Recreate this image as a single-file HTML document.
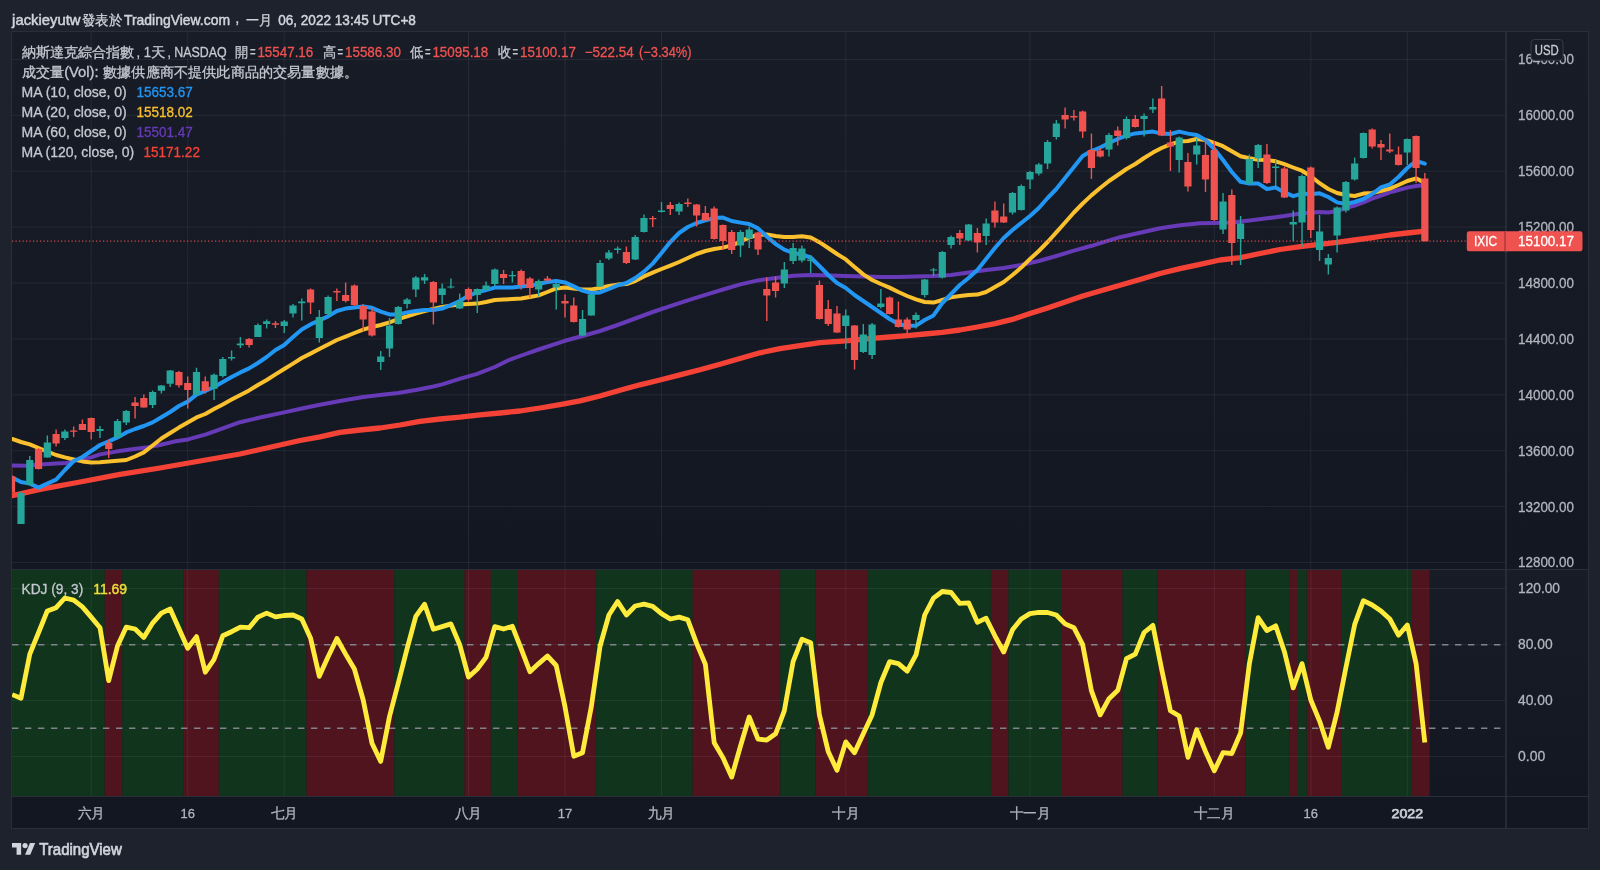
<!DOCTYPE html>
<html lang="zh-Hant"><head><meta charset="utf-8"><title>TradingView chart</title>
<style>html,body{margin:0;padding:0;background:#1e222d;width:1600px;height:870px;overflow:hidden}body{font-family:"Liberation Sans", sans-serif}</style>
</head><body>
<svg width="1600" height="870" viewBox="0 0 1600 870" style="display:block;will-change:transform;font-family:'Liberation Sans',sans-serif">
<defs>
<linearGradient id="pg" x1="0" y1="0" x2="0" y2="1"><stop offset="0" stop-color="#181c27"/><stop offset="1" stop-color="#131722"/></linearGradient>
<clipPath id="c1"><rect x="12" y="32" width="1493.5" height="537"/></clipPath>
<clipPath id="c2"><rect x="12" y="570" width="1493.5" height="226"/></clipPath>
</defs>
<rect width="1600" height="870" fill="#1e222d"/>
<rect x="12" y="32" width="1576" height="537" fill="url(#pg)"/>
<rect x="12" y="570" width="1576" height="226" fill="url(#pg)"/>
<rect x="12" y="796" width="1576" height="32" fill="#131722"/>
<g clip-path="url(#c2)">
<rect x="12.00" y="570" width="92.76" height="226" fill="#10341c"/>
<rect x="104.76" y="570" width="17.55" height="226" fill="#50141e"/>
<rect x="122.31" y="570" width="61.42" height="226" fill="#10341c"/>
<rect x="183.73" y="570" width="35.10" height="226" fill="#50141e"/>
<rect x="218.82" y="570" width="87.74" height="226" fill="#10341c"/>
<rect x="306.56" y="570" width="87.74" height="226" fill="#50141e"/>
<rect x="394.30" y="570" width="70.19" height="226" fill="#10341c"/>
<rect x="464.49" y="570" width="26.32" height="226" fill="#50141e"/>
<rect x="490.82" y="570" width="26.32" height="226" fill="#10341c"/>
<rect x="517.14" y="570" width="78.97" height="226" fill="#50141e"/>
<rect x="596.11" y="570" width="96.51" height="226" fill="#10341c"/>
<rect x="692.62" y="570" width="87.74" height="226" fill="#50141e"/>
<rect x="780.36" y="570" width="35.10" height="226" fill="#10341c"/>
<rect x="815.46" y="570" width="52.64" height="226" fill="#50141e"/>
<rect x="868.10" y="570" width="122.84" height="226" fill="#10341c"/>
<rect x="990.93" y="570" width="17.55" height="226" fill="#50141e"/>
<rect x="1008.48" y="570" width="52.64" height="226" fill="#10341c"/>
<rect x="1061.13" y="570" width="61.42" height="226" fill="#50141e"/>
<rect x="1122.55" y="570" width="35.10" height="226" fill="#10341c"/>
<rect x="1157.64" y="570" width="87.74" height="226" fill="#50141e"/>
<rect x="1245.38" y="570" width="43.87" height="226" fill="#10341c"/>
<rect x="1289.25" y="570" width="8.77" height="226" fill="#50141e"/>
<rect x="1298.03" y="570" width="8.77" height="226" fill="#10341c"/>
<rect x="1306.80" y="570" width="35.10" height="226" fill="#50141e"/>
<rect x="1341.89" y="570" width="70.19" height="226" fill="#10341c"/>
<rect x="1412.09" y="570" width="17.55" height="226" fill="#50141e"/>
</g>
<path d="M91.2 32V569M91.2 570V796M187.7 32V569M187.7 570V796M284.2 32V569M284.2 570V796M468.5 32V569M468.5 570V796M565.0 32V569M565.0 570V796M661.5 32V569M661.5 570V796M845.8 32V569M845.8 570V796M1030.0 32V569M1030.0 570V796M1214.3 32V569M1214.3 570V796M1310.8 32V569M1310.8 570V796M1407.3 32V569M1407.3 570V796M12 59.4H1506M12 115.3H1506M12 171.2H1506M12 227.1H1506M12 283.0H1506M12 338.9H1506M12 394.8H1506M12 450.7H1506M12 506.6H1506M12 562.5H1506M12 588.4H1506M12 644.4H1506M12 700.4H1506M12 756.4H1506" stroke="rgba(240,243,250,0.07)" stroke-width="1" fill="none"/>
<path d="M12 644.7H1501M12 728.3H1501" stroke="#80838c" stroke-width="1.5" stroke-dasharray="6.4 6.6" fill="none"/>
<g clip-path="url(#c1)" fill="none" stroke-linejoin="round" stroke-linecap="round">
<path d="M12.2 495.6L40.0 489.4L80.0 482.0L120.0 474.4L160.0 468.0L200.0 461.0L240.0 454.0L280.0 445.0L300.0 440.5L320.0 436.8L340.0 432.4L360.0 430.0L380.0 428.0L400.0 425.0L420.0 421.4L440.0 419.0L460.0 417.2L480.0 414.9L500.0 413.0L520.0 411.0L540.0 408.0L560.0 404.6L580.0 400.8L600.0 396.0L620.0 390.2L640.0 384.8L660.0 380.0L680.0 374.9L700.0 369.7L720.0 364.2L740.0 358.5L760.0 352.8L780.0 348.6L800.0 345.7L820.0 342.6L845.8 340.9L872.0 338.4L889.6 337.0L907.2 335.6L924.8 334.0L942.2 332.4L959.8 330.0L977.4 327.0L995.0 323.6L1012.4 319.4L1030.0 313.6L1047.6 308.0L1065.2 302.0L1082.8 296.0L1100.0 291.0L1120.0 285.3L1140.0 279.5L1160.0 273.5L1180.0 268.7L1200.0 264.3L1220.0 260.0L1240.6 257.6L1260.0 253.5L1280.0 249.5L1302.0 246.4L1319.6 244.4L1337.2 242.4L1354.6 240.0L1372.2 237.6L1389.8 235.0L1407.2 233.0L1424.8 231.1" stroke="#f44336" stroke-width="5.3"/>
<path d="M12.2 465.4L26.0 465.8L40.0 464.4L56.0 463.6L66.0 463.0L80.0 459.6L91.2 457.4L100.0 454.4L116.0 451.6L130.0 449.6L146.0 447.6L160.0 445.0L174.0 441.6L188.0 439.4L206.0 434.4L220.0 429.3L240.0 422.2L260.0 417.5L284.2 412.4L301.8 408.5L320.0 404.8L340.0 401.0L363.2 397.0L380.0 395.0L398.2 393.0L415.8 390.0L433.4 386.5L442.2 384.4L459.6 378.9L477.2 373.8L494.8 367.0L508.0 360.5L520.0 356.0L540.0 349.0L565.0 340.8L582.6 336.0L600.0 331.0L617.6 325.0L635.2 318.5L652.8 312.0L670.2 306.2L687.8 300.4L705.4 294.9L723.0 289.5L740.4 284.4L758.0 280.4L775.6 278.0L793.2 275.8L810.6 275.0L830.0 275.6L845.8 276.0L863.4 276.6L880.8 277.0L898.4 277.0L916.0 276.4L933.6 276.0L951.0 275.0L968.6 272.4L986.2 270.0L1003.6 268.0L1021.2 265.0L1038.8 261.0L1056.4 256.0L1074.0 250.6L1091.6 245.8L1109.2 240.3L1120.0 237.2L1140.0 232.8L1160.0 228.2L1180.0 225.2L1200.0 223.2L1214.2 223.0L1231.8 222.4L1249.4 220.5L1267.0 218.3L1284.4 216.0L1302.0 213.2L1319.6 212.0L1328.4 212.4L1337.2 211.0L1345.8 208.0L1354.6 205.6L1363.4 202.4L1372.2 198.6L1381.0 195.6L1389.8 192.4L1398.6 190.0L1407.2 187.6L1416.0 186.0L1424.8 185.0" stroke="#673ab7" stroke-width="4"/>
<path d="M12.2 439.0L21.0 442.0L29.8 444.4L38.6 448.0L47.3 451.6L56.1 455.0L64.9 457.4L73.7 459.4L82.4 461.4L91.2 462.6L100.0 462.2L108.7 461.6L117.5 460.8L126.3 460.0L135.1 456.5L143.8 452.4L152.6 445.5L161.4 438.5L170.2 433.0L178.9 427.6L187.7 422.5L196.5 417.4L205.3 414.0L214.0 409.0L222.8 404.4L231.6 399.6L240.4 395.0L249.1 390.4L257.9 385.0L266.7 380.0L275.5 374.4L284.2 369.0L293.0 363.6L301.8 358.0L310.5 353.6L319.3 349.0L328.1 344.4L336.9 340.0L345.6 336.6L354.4 333.0L363.2 329.6L372.0 327.0L380.7 325.0L389.5 322.4L398.3 319.0L407.1 316.4L415.8 313.6L424.6 311.0L433.4 309.0L442.2 307.0L450.9 305.6L459.7 304.4L468.5 304.0L477.3 303.6L486.0 302.0L494.8 300.0L503.6 299.5L512.4 299.0L521.1 298.4L529.9 297.0L538.7 295.4L547.4 292.0L556.2 288.4L565.0 287.4L573.8 288.6L582.5 289.4L591.3 289.4L600.1 288.0L608.9 286.0L617.6 284.6L626.4 284.0L635.2 281.0L644.0 276.4L652.7 272.6L661.5 269.0L670.3 265.6L679.1 262.0L687.8 258.0L696.6 254.0L705.4 251.0L714.2 249.0L722.9 247.6L731.7 245.4L740.5 241.6L749.2 237.4L758.0 235.0L766.8 234.4L775.6 236.0L784.3 237.0L793.1 237.0L801.9 236.3L810.7 237.5L819.4 242.2L828.2 248.0L837.0 254.0L845.8 259.4L854.5 267.0L863.3 274.4L872.1 280.0L880.9 284.0L889.6 287.6L898.4 292.0L907.2 296.0L916.0 299.4L924.7 302.0L933.5 302.6L942.3 300.0L951.1 297.4L959.8 296.0L968.6 295.0L977.4 294.6L986.1 292.0L994.9 287.0L1003.7 282.0L1012.5 275.0L1021.2 267.6L1030.0 259.0L1038.8 251.0L1047.6 242.0L1056.3 232.3L1065.1 222.5L1073.9 212.5L1082.7 203.5L1091.4 195.4L1100.2 188.0L1109.0 181.0L1117.8 175.0L1126.5 169.0L1135.3 164.0L1144.1 158.0L1152.9 152.6L1161.6 148.0L1170.4 144.4L1179.2 141.6L1188.0 141.0L1196.7 139.0L1205.5 140.0L1214.3 142.8L1223.0 146.2L1231.8 151.3L1240.6 156.3L1249.4 158.3L1258.1 159.7L1266.9 160.0L1275.7 161.3L1284.5 164.2L1293.2 167.5L1302.0 170.7L1310.8 176.3L1319.6 183.2L1328.3 189.0L1337.1 193.0L1345.9 195.0L1354.7 196.0L1363.4 193.6L1372.2 193.0L1381.0 191.0L1389.8 188.6L1398.5 185.0L1407.3 181.0L1416.1 178.4L1424.8 182.7" stroke="#fbc02d" stroke-width="4"/>
<path d="M12.2 477.5L21.0 482.0L29.8 483.6L38.6 487.6L47.3 483.6L56.1 479.6L64.9 470.0L73.7 461.0L82.4 457.0L91.2 451.0L100.0 445.0L108.7 441.4L117.5 437.4L126.3 432.4L135.1 429.0L143.8 426.0L152.6 422.4L161.4 417.2L170.2 412.0L178.9 406.0L187.7 401.6L196.5 394.6L205.3 391.0L214.0 387.0L222.8 382.0L231.6 377.0L240.4 372.4L249.1 368.4L257.9 363.0L266.7 357.0L275.5 350.0L284.2 345.0L293.0 337.0L301.8 329.4L310.5 324.4L319.3 320.4L328.1 316.4L336.9 311.0L345.6 308.6L354.4 307.4L363.2 306.6L372.0 307.8L380.7 311.6L389.5 314.4L398.3 314.4L407.1 312.4L415.8 311.0L424.6 310.0L433.4 310.0L442.2 308.6L450.9 305.0L459.7 301.0L468.5 295.6L477.3 292.4L486.0 290.0L494.8 287.6L503.6 287.6L512.4 287.4L521.1 286.4L529.9 285.6L538.7 284.0L547.4 282.0L556.2 281.0L565.0 282.4L573.8 286.4L582.5 290.6L591.3 293.0L600.1 292.4L608.9 289.0L617.6 285.4L626.4 283.0L635.2 278.0L644.0 271.6L652.7 263.6L661.5 253.0L670.3 242.0L679.1 233.0L687.8 227.0L696.6 223.0L705.4 220.4L714.2 218.0L722.9 217.6L731.7 221.0L740.5 222.6L749.2 224.0L758.0 228.4L766.8 236.4L775.6 244.0L784.3 249.6L793.1 253.0L801.9 254.5L810.7 257.5L819.4 266.0L828.2 275.0L837.0 283.0L845.8 288.0L854.5 295.0L863.3 301.0L872.1 307.0L880.9 313.0L889.6 319.0L898.4 324.0L907.2 326.0L916.0 325.6L924.7 320.0L933.5 315.4L942.3 303.0L951.1 294.0L959.8 285.0L968.6 278.0L977.4 270.0L986.1 259.0L994.9 248.0L1003.7 238.0L1012.5 230.0L1021.2 223.0L1030.0 216.0L1038.8 208.0L1047.6 198.0L1056.3 189.0L1065.1 178.0L1073.9 167.0L1082.7 156.0L1091.4 151.0L1100.2 147.6L1109.0 143.0L1117.8 139.0L1126.5 135.6L1135.3 133.4L1144.1 132.6L1152.9 131.6L1161.6 133.6L1170.4 134.0L1179.2 131.6L1188.0 133.6L1196.7 135.0L1205.5 140.0L1214.3 149.0L1223.0 160.0L1231.8 172.0L1240.6 181.8L1249.4 183.6L1258.1 183.4L1266.9 189.0L1275.7 187.6L1284.5 192.4L1293.2 196.2L1302.0 193.6L1310.8 194.3L1319.6 193.3L1328.3 197.0L1337.1 202.4L1345.9 204.0L1354.7 202.0L1363.4 199.0L1372.2 194.0L1381.0 187.4L1389.8 184.4L1398.5 177.0L1407.3 168.0L1416.1 161.0L1424.8 163.7" stroke="#2196f3" stroke-width="4"/>
</g>
<path d="M12 241.1H1467" stroke="#ef5350" stroke-opacity="0.85" stroke-width="1.4" stroke-dasharray="1.25 2.25" fill="none"/>
<g clip-path="url(#c1)">
<path d="M21.01 491.6V524.0M29.78 456.0V485.0M47.33 435.6V457.4M64.88 429.6V440.0M99.97 426.0V438.0M117.52 419.0V438.0M126.30 410.0V425.0M152.62 390.6V408.0M161.39 385.0V393.6M170.17 370.0V386.9M196.49 367.8V395.0M214.04 373.4V400.0M222.81 357.0V377.6M231.58 350.4V360.6M240.36 337.0V348.0M257.91 323.6V337.0M266.68 319.6V328.6M284.23 320.0V333.0M293.00 304.0V317.4M301.78 298.6V320.6M319.32 310.0V342.4M328.10 295.4V316.0M380.74 351.0V370.0M389.52 318.0V357.0M398.29 306.0V324.6M407.06 298.0V308.4M415.84 276.0V297.0M424.61 274.0V284.0M442.16 283.4V304.0M450.93 278.4V288.4M459.71 293.4V309.0M477.26 288.4V313.0M486.03 281.6V290.6M494.80 268.6V286.0M512.35 271.0V282.4M538.67 279.6V296.6M556.22 283.0V309.6M582.54 310.0V336.0M591.32 293.6V315.6M600.09 260.0V287.0M608.87 250.0V260.0M617.64 246.6V253.6M635.19 235.0V260.0M643.96 214.6V232.4M661.51 202.0V212.4M679.06 202.4V215.0M740.48 230.0V257.0M749.25 226.6V248.0M784.35 262.0V288.0M793.12 243.0V264.0M801.89 245.6V262.4M810.67 255.0V273.0M845.76 309.6V349.0M863.31 324.0V353.0M872.09 323.0V359.0M880.86 289.0V308.6M915.96 312.6V328.6M924.73 279.0V297.4M933.50 268.0V276.0M942.28 251.0V278.6M951.05 235.6V248.4M968.60 224.0V241.0M986.15 218.6V245.0M1012.47 192.0V214.4M1021.24 184.4V210.4M1030.02 171.0V189.0M1038.79 163.0V175.6M1047.57 140.0V169.0M1056.34 120.0V139.4M1108.98 133.0V156.6M1126.53 116.6V139.4M1144.08 113.6V136.4M1152.85 98.4V113.0M1179.18 136.6V172.4M1196.72 138.4V164.4M1223.05 193.0V234.0M1240.59 216.0V265.0M1249.37 154.4V184.0M1258.14 144.0V168.0M1275.69 160.0V187.6M1293.24 210.4V241.0M1302.01 174.4V247.0M1319.56 215.0V261.0M1328.33 254.0V274.6M1337.11 206.6V252.6M1345.88 181.0V212.6M1354.66 157.4V180.6M1363.43 132.6V158.4M1407.30 138.6V165.0" stroke="#26a69a" stroke-width="1.4" fill="none"/>
<path d="M11.53 467.5V492.7M38.56 448.0V469.6M56.10 429.6V446.4M73.65 426.4V437.0M82.43 419.6V430.0M91.20 417.6V439.6M108.75 439.4V458.0M135.07 397.0V418.4M143.84 394.4V407.6M178.94 371.0V387.5M187.71 376.4V408.4M205.26 376.6V393.4M249.13 338.0V347.6M275.45 321.0V328.0M310.55 288.6V314.0M336.87 288.4V301.0M345.65 282.4V302.6M354.42 284.4V306.0M363.19 304.0V331.4M371.97 308.0V336.6M433.39 281.0V324.4M468.48 287.4V301.4M503.58 270.0V284.0M521.13 269.4V289.4M529.90 277.0V297.4M547.45 276.0V283.0M565.00 294.4V317.6M573.77 297.4V322.6M626.41 246.6V264.0M652.74 216.0V227.0M670.28 202.0V215.0M687.83 198.4V207.0M696.61 204.0V226.4M705.38 206.0V221.0M714.15 206.4V239.4M722.93 224.6V250.0M731.70 230.0V254.0M758.02 232.0V255.0M766.80 277.4V321.0M775.57 276.6V297.4M819.44 280.6V319.4M828.22 300.0V326.0M836.99 306.0V333.0M854.54 325.0V369.6M889.63 296.6V314.6M898.41 301.4V327.4M907.18 317.6V333.0M959.83 230.0V245.0M977.37 228.0V252.4M994.92 201.6V227.6M1003.70 203.6V223.0M1065.11 107.6V128.6M1073.89 110.0V120.6M1082.66 110.4V138.0M1091.44 133.6V179.0M1100.21 148.0V157.4M1117.76 126.4V145.6M1135.31 115.0V127.6M1161.63 86.0V136.0M1170.40 130.0V171.0M1187.95 153.0V191.6M1205.50 139.6V192.0M1214.27 141.0V221.0M1231.82 189.4V265.0M1266.92 144.0V184.0M1284.46 166.4V198.0M1310.79 166.6V238.0M1372.20 128.6V148.6M1380.98 140.0V160.0M1389.75 133.6V153.0M1398.53 146.6V165.4M1416.07 135.6V183.0M1424.85 173.1V241.4" stroke="#ef5350" stroke-width="1.4" fill="none"/>
<path d="M17.41 493.0h7.2v31.0h-7.2zM26.18 460.0h7.2v25.0h-7.2zM43.73 442.4h7.2v15.0h-7.2zM61.28 431.4h7.2v6.6h-7.2zM96.37 429.0h7.2v2.0h-7.2zM113.92 421.0h7.2v16.4h-7.2zM122.70 411.0h7.2v11.6h-7.2zM149.02 392.0h7.2v13.0h-7.2zM157.79 385.6h7.2v5.2h-7.2zM166.57 370.6h7.2v13.1h-7.2zM192.89 372.0h7.2v23.0h-7.2zM210.44 374.8h7.2v13.9h-7.2zM219.21 359.0h7.2v17.0h-7.2zM227.98 357.0h7.2v1.4h-7.2zM236.76 343.6h7.2v1.6h-7.2zM254.31 325.0h7.2v12.0h-7.2zM263.08 321.2h7.2v2.8h-7.2zM280.63 321.6h7.2v4.4h-7.2zM289.40 305.6h7.2v8.0h-7.2zM298.18 301.6h7.2v1.6h-7.2zM315.72 317.0h7.2v21.0h-7.2zM324.50 297.0h7.2v17.0h-7.2zM377.14 356.6h7.2v5.4h-7.2zM385.92 325.4h7.2v23.2h-7.2zM394.69 307.0h7.2v17.0h-7.2zM403.46 299.4h7.2v4.6h-7.2zM412.24 277.6h7.2v12.0h-7.2zM421.01 277.2h7.2v3.2h-7.2zM438.56 288.6h7.2v6.4h-7.2zM447.33 286.4h7.2v1.2h-7.2zM456.11 301.0h7.2v7.6h-7.2zM473.66 289.0h7.2v6.0h-7.2zM482.43 285.6h7.2v4.4h-7.2zM491.20 269.4h7.2v14.6h-7.2zM508.75 275.0h7.2v1.2h-7.2zM535.07 281.0h7.2v8.6h-7.2zM552.62 284.0h7.2v3.4h-7.2zM578.94 319.0h7.2v16.6h-7.2zM587.72 294.4h7.2v21.0h-7.2zM596.49 263.0h7.2v23.6h-7.2zM605.27 252.4h7.2v6.2h-7.2zM614.04 248.6h7.2v1.4h-7.2zM631.59 237.0h7.2v22.6h-7.2zM640.36 218.0h7.2v14.0h-7.2zM657.91 210.6h7.2v1.4h-7.2zM675.46 204.0h7.2v7.6h-7.2zM736.88 232.0h7.2v13.6h-7.2zM745.65 229.6h7.2v9.0h-7.2zM780.75 269.6h7.2v14.0h-7.2zM789.52 248.0h7.2v13.0h-7.2zM798.29 248.4h7.2v12.2h-7.2zM807.07 259.4h7.2v1.6h-7.2zM842.16 315.6h7.2v10.4h-7.2zM859.71 334.4h7.2v17.6h-7.2zM868.49 324.4h7.2v30.6h-7.2zM877.26 303.4h7.2v3.6h-7.2zM912.36 315.0h7.2v5.0h-7.2zM921.13 279.6h7.2v15.4h-7.2zM929.90 269.4h7.2v1.2h-7.2zM938.68 252.0h7.2v25.6h-7.2zM947.45 237.0h7.2v8.0h-7.2zM965.00 224.6h7.2v16.0h-7.2zM982.55 223.6h7.2v12.4h-7.2zM1008.87 193.0h7.2v19.6h-7.2zM1017.64 186.0h7.2v24.0h-7.2zM1026.42 172.0h7.2v7.4h-7.2zM1035.19 164.4h7.2v9.0h-7.2zM1043.97 142.0h7.2v21.4h-7.2zM1052.74 123.6h7.2v13.4h-7.2zM1105.38 135.0h7.2v14.6h-7.2zM1122.93 119.0h7.2v19.0h-7.2zM1140.48 116.0h7.2v3.0h-7.2zM1149.25 107.0h7.2v2.6h-7.2zM1175.58 137.4h7.2v22.6h-7.2zM1193.12 145.4h7.2v9.0h-7.2zM1219.45 201.6h7.2v28.0h-7.2zM1236.99 223.6h7.2v15.4h-7.2zM1245.77 159.0h7.2v24.6h-7.2zM1254.54 145.0h7.2v13.6h-7.2zM1272.09 166.4h7.2v1.6h-7.2zM1289.64 222.0h7.2v2.6h-7.2zM1298.41 176.0h7.2v46.6h-7.2zM1315.96 231.4h7.2v18.6h-7.2zM1324.73 258.0h7.2v6.6h-7.2zM1333.51 207.4h7.2v28.0h-7.2zM1342.28 182.0h7.2v28.6h-7.2zM1351.06 163.6h7.2v15.8h-7.2zM1359.83 133.0h7.2v25.0h-7.2zM1403.70 139.0h7.2v13.6h-7.2z" fill="#26a69a"/>
<path d="M7.93 476.3h7.2v16.4h-7.2zM34.96 449.0h7.2v20.0h-7.2zM52.50 434.0h7.2v9.6h-7.2zM70.05 430.6h7.2v1.2h-7.2zM78.83 424.0h7.2v6.0h-7.2zM87.60 418.0h7.2v14.0h-7.2zM105.15 443.0h7.2v6.0h-7.2zM131.47 402.6h7.2v3.4h-7.2zM140.24 398.0h7.2v9.6h-7.2zM175.34 371.9h7.2v13.4h-7.2zM184.11 383.0h7.2v6.9h-7.2zM201.66 381.2h7.2v9.8h-7.2zM245.53 339.0h7.2v6.0h-7.2zM271.85 323.2h7.2v1.6h-7.2zM306.95 289.4h7.2v13.2h-7.2zM333.27 291.0h7.2v1.6h-7.2zM342.05 295.0h7.2v6.0h-7.2zM350.82 285.6h7.2v19.4h-7.2zM359.59 306.0h7.2v13.6h-7.2zM368.37 311.4h7.2v24.2h-7.2zM429.79 282.0h7.2v20.6h-7.2zM464.88 289.0h7.2v10.6h-7.2zM499.98 274.0h7.2v4.0h-7.2zM517.53 271.0h7.2v14.0h-7.2zM526.30 278.4h7.2v9.6h-7.2zM543.85 278.6h7.2v1.8h-7.2zM561.40 301.0h7.2v2.4h-7.2zM570.17 305.6h7.2v16.4h-7.2zM622.81 252.0h7.2v11.0h-7.2zM649.14 218.0h7.2v1.2h-7.2zM666.68 205.0h7.2v4.0h-7.2zM684.23 202.4h7.2v1.6h-7.2zM693.01 204.4h7.2v11.2h-7.2zM701.78 213.0h7.2v7.4h-7.2zM710.55 208.6h7.2v30.4h-7.2zM719.33 225.0h7.2v16.0h-7.2zM728.10 232.0h7.2v18.0h-7.2zM754.42 232.4h7.2v17.0h-7.2zM763.20 289.0h7.2v6.4h-7.2zM771.97 282.6h7.2v8.4h-7.2zM815.84 285.0h7.2v34.0h-7.2zM824.62 309.0h7.2v15.0h-7.2zM833.39 313.4h7.2v19.0h-7.2zM850.94 325.6h7.2v34.4h-7.2zM886.03 297.6h7.2v16.4h-7.2zM894.81 319.4h7.2v7.6h-7.2zM903.58 319.4h7.2v10.2h-7.2zM956.23 233.0h7.2v5.6h-7.2zM973.77 233.0h7.2v9.6h-7.2zM991.32 210.6h7.2v12.0h-7.2zM1000.10 216.4h7.2v6.2h-7.2zM1061.51 115.0h7.2v4.6h-7.2zM1070.29 116.0h7.2v1.4h-7.2zM1079.06 111.6h7.2v20.0h-7.2zM1087.84 150.0h7.2v18.0h-7.2zM1096.61 150.4h7.2v6.2h-7.2zM1114.16 130.4h7.2v5.6h-7.2zM1131.71 119.0h7.2v8.0h-7.2zM1158.03 98.4h7.2v37.2h-7.2zM1166.80 142.4h7.2v4.2h-7.2zM1184.35 162.0h7.2v24.4h-7.2zM1201.90 155.0h7.2v24.6h-7.2zM1210.67 150.0h7.2v70.0h-7.2zM1228.22 195.0h7.2v48.0h-7.2zM1263.32 154.4h7.2v28.6h-7.2zM1280.86 168.6h7.2v28.8h-7.2zM1307.19 167.4h7.2v62.6h-7.2zM1368.60 129.6h7.2v17.0h-7.2zM1377.38 144.0h7.2v3.6h-7.2zM1386.15 149.4h7.2v2.2h-7.2zM1394.93 154.6h7.2v10.4h-7.2zM1412.47 136.0h7.2v32.0h-7.2zM1421.25 178.6h7.2v62.6h-7.2z" fill="#ef5350"/>
</g>
<g clip-path="url(#c2)">
<path d="M12.2 694.6L21.0 698.2L29.8 654.1L38.6 632.5L47.3 610.9L56.1 607.7L64.9 598.0L73.7 600.1L82.4 606.9L91.2 617.1L100.0 627.7L108.7 680.6L117.5 646.0L126.3 627.1L135.1 629.0L143.8 637.4L152.6 623.1L161.4 613.1L170.2 609.0L178.9 628.5L187.7 648.2L196.5 636.6L205.3 672.2L214.0 659.5L222.8 635.8L231.6 631.7L240.4 627.1L249.1 627.7L257.9 617.1L266.7 613.1L275.5 616.9L284.2 615.5L293.0 615.0L301.8 619.0L310.5 637.9L319.3 676.3L328.1 656.8L336.9 638.5L345.6 654.1L354.4 669.0L363.2 700.0L372.0 743.3L380.7 761.4L389.5 716.5L398.3 683.0L407.1 648.7L415.8 616.3L424.6 604.2L433.4 629.3L442.2 626.6L450.9 623.9L459.7 644.7L468.5 677.1L477.3 669.0L486.0 657.4L494.8 626.6L503.6 629.0L512.4 626.3L521.1 648.7L529.9 671.7L538.7 663.6L547.4 656.0L556.2 665.5L565.0 706.8L573.8 756.2L582.5 752.7L591.3 706.8L600.1 646.0L608.9 615.0L617.6 601.5L626.4 615.0L635.2 606.0L644.0 604.2L652.7 606.3L661.5 613.6L670.3 619.0L679.1 617.1L687.8 619.8L696.6 643.3L705.4 664.4L714.2 742.7L722.9 757.6L731.7 777.0L740.5 746.0L749.2 717.0L758.0 739.2L766.8 740.0L775.6 733.8L784.3 710.8L793.1 661.7L801.9 639.3L810.7 642.8L819.4 714.9L828.2 751.4L837.0 770.3L845.8 741.9L854.5 752.7L863.3 733.8L872.1 714.9L880.9 682.5L889.6 661.7L898.4 663.6L907.2 671.1L916.0 654.9L924.7 615.0L933.5 598.2L942.3 591.5L951.1 592.5L959.8 603.4L968.6 602.8L977.4 622.3L986.1 618.2L994.9 635.8L1003.7 652.0L1012.5 629.8L1021.2 619.0L1030.0 613.6L1038.8 612.3L1047.6 612.5L1056.3 615.0L1065.1 623.9L1073.9 627.7L1082.7 644.7L1091.4 690.6L1100.2 714.9L1109.0 698.7L1117.8 690.3L1126.5 658.7L1135.3 654.1L1144.1 632.5L1152.9 625.4L1161.6 669.0L1170.4 710.8L1179.2 716.0L1188.0 757.3L1196.7 729.8L1205.5 751.4L1214.3 770.8L1223.0 752.7L1231.8 753.5L1240.6 733.0L1249.4 663.6L1258.1 617.7L1266.9 630.6L1275.7 625.8L1284.5 652.0L1293.2 687.9L1302.0 663.6L1310.8 700.0L1319.6 721.1L1328.3 747.3L1337.1 712.2L1345.9 667.6L1354.7 624.4L1363.4 600.7L1372.2 605.0L1381.0 610.9L1389.8 619.0L1398.5 635.2L1407.3 625.0L1416.1 663.6L1424.8 742.6" stroke="#ffeb3b" stroke-width="4.8" fill="none" stroke-linejoin="round"/>
</g>
<path d="M12 569.5H1588M12 796.5H1588" stroke="#2a2e39" stroke-width="1.2" fill="none"/>
<path d="M1506 32V828" stroke="#2e3240" stroke-width="1.5" fill="none"/>
<rect x="11.5" y="31.5" width="1577" height="797" fill="none" stroke="#2a2e39" stroke-width="1"/>
<text x="1518" y="64.2" font-size="14.6" fill="#b2b5be" textLength="56" lengthAdjust="spacingAndGlyphs" stroke="#b2b5be" stroke-width="0.3">16400.00</text>
<text x="1518" y="120.1" font-size="14.6" fill="#b2b5be" textLength="56" lengthAdjust="spacingAndGlyphs" stroke="#b2b5be" stroke-width="0.3">16000.00</text>
<text x="1518" y="176.0" font-size="14.6" fill="#b2b5be" textLength="56" lengthAdjust="spacingAndGlyphs" stroke="#b2b5be" stroke-width="0.3">15600.00</text>
<text x="1518" y="231.9" font-size="14.6" fill="#b2b5be" textLength="56" lengthAdjust="spacingAndGlyphs" stroke="#b2b5be" stroke-width="0.3">15200.00</text>
<text x="1518" y="287.9" font-size="14.6" fill="#b2b5be" textLength="56" lengthAdjust="spacingAndGlyphs" stroke="#b2b5be" stroke-width="0.3">14800.00</text>
<text x="1518" y="343.8" font-size="14.6" fill="#b2b5be" textLength="56" lengthAdjust="spacingAndGlyphs" stroke="#b2b5be" stroke-width="0.3">14400.00</text>
<text x="1518" y="399.7" font-size="14.6" fill="#b2b5be" textLength="56" lengthAdjust="spacingAndGlyphs" stroke="#b2b5be" stroke-width="0.3">14000.00</text>
<text x="1518" y="455.6" font-size="14.6" fill="#b2b5be" textLength="56" lengthAdjust="spacingAndGlyphs" stroke="#b2b5be" stroke-width="0.3">13600.00</text>
<text x="1518" y="511.5" font-size="14.6" fill="#b2b5be" textLength="56" lengthAdjust="spacingAndGlyphs" stroke="#b2b5be" stroke-width="0.3">13200.00</text>
<text x="1518" y="567.4" font-size="14.6" fill="#b2b5be" textLength="56" lengthAdjust="spacingAndGlyphs" stroke="#b2b5be" stroke-width="0.3">12800.00</text>
<text x="1518" y="593.2" font-size="14.6" fill="#b2b5be" textLength="42" lengthAdjust="spacingAndGlyphs" stroke="#b2b5be" stroke-width="0.3">120.00</text>
<text x="1518" y="649.2" font-size="14.6" fill="#b2b5be" textLength="34.6" lengthAdjust="spacingAndGlyphs" stroke="#b2b5be" stroke-width="0.3">80.00</text>
<text x="1518" y="705.2" font-size="14.6" fill="#b2b5be" textLength="34.6" lengthAdjust="spacingAndGlyphs" stroke="#b2b5be" stroke-width="0.3">40.00</text>
<text x="1518" y="761.2" font-size="14.6" fill="#b2b5be" textLength="27.2" lengthAdjust="spacingAndGlyphs" stroke="#b2b5be" stroke-width="0.3">0.00</text>
<rect x="1531" y="39.5" width="32" height="20.7" rx="3.5" fill="#181c27" stroke="#363a45" stroke-width="1"/>
<text x="1534.8" y="55" font-size="15" fill="#c9ccd4" textLength="24" lengthAdjust="spacingAndGlyphs" stroke="#c9ccd4" stroke-width="0.3">USD</text>
<rect x="1466.8" y="231.2" width="115.7" height="20" rx="2.2" fill="#ef5350"/>
<path d="M1505 231.2V251.2" stroke="#b23c3c" stroke-width="1.6"/>
<text x="1474" y="246" font-size="14.6" fill="#ffffff" textLength="23.2" lengthAdjust="spacingAndGlyphs" stroke="#ffffff" stroke-width="0.3">IXIC</text>
<text x="1518" y="246" font-size="14.6" fill="#ffffff" textLength="56" lengthAdjust="spacingAndGlyphs" stroke="#ffffff" stroke-width="0.3">15100.17</text>
<text x="91.2" y="817.9" font-size="13.6" fill="#b2b5be" textLength="27.2" lengthAdjust="spacingAndGlyphs" text-anchor="middle" stroke="#b2b5be" stroke-width="0.3">六月</text>
<text x="187.7" y="817.8" font-size="13.4" fill="#b2b5be" textLength="14.4" lengthAdjust="spacingAndGlyphs" text-anchor="middle" stroke="#b2b5be" stroke-width="0.3">16</text>
<text x="284.2" y="817.9" font-size="13.6" fill="#b2b5be" textLength="27.2" lengthAdjust="spacingAndGlyphs" text-anchor="middle" stroke="#b2b5be" stroke-width="0.3">七月</text>
<text x="468.5" y="817.9" font-size="13.6" fill="#b2b5be" textLength="27.2" lengthAdjust="spacingAndGlyphs" text-anchor="middle" stroke="#b2b5be" stroke-width="0.3">八月</text>
<text x="565.0" y="817.8" font-size="13.4" fill="#b2b5be" textLength="14.4" lengthAdjust="spacingAndGlyphs" text-anchor="middle" stroke="#b2b5be" stroke-width="0.3">17</text>
<text x="661.5" y="817.9" font-size="13.6" fill="#b2b5be" textLength="27.2" lengthAdjust="spacingAndGlyphs" text-anchor="middle" stroke="#b2b5be" stroke-width="0.3">九月</text>
<text x="845.8" y="817.9" font-size="13.6" fill="#b2b5be" textLength="27.2" lengthAdjust="spacingAndGlyphs" text-anchor="middle" stroke="#b2b5be" stroke-width="0.3">十月</text>
<text x="1030.0" y="817.9" font-size="13.6" fill="#b2b5be" textLength="40.8" lengthAdjust="spacingAndGlyphs" text-anchor="middle" stroke="#b2b5be" stroke-width="0.3">十一月</text>
<text x="1214.3" y="817.9" font-size="13.6" fill="#b2b5be" textLength="40.8" lengthAdjust="spacingAndGlyphs" text-anchor="middle" stroke="#b2b5be" stroke-width="0.3">十二月</text>
<text x="1310.8" y="817.8" font-size="13.4" fill="#b2b5be" textLength="14.4" lengthAdjust="spacingAndGlyphs" text-anchor="middle" stroke="#b2b5be" stroke-width="0.3">16</text>
<text x="1407.3" y="817.8" font-size="13.4" fill="#c9ccd4" textLength="31.5" lengthAdjust="spacingAndGlyphs" text-anchor="middle" stroke="#c9ccd4" stroke-width="0.75">2022</text>
<text x="12.1" y="24.75" font-size="14.6" fill="#d1d4dc" textLength="68.5" lengthAdjust="spacingAndGlyphs" stroke="#d1d4dc" stroke-width="0.5">jackieyutw</text>
<text x="82" y="24.75" font-size="14" fill="#d1d4dc" textLength="40.3" lengthAdjust="spacingAndGlyphs" stroke="#d1d4dc" stroke-width="0.3">發表於</text>
<text x="124" y="24.75" font-size="14.6" fill="#d1d4dc" textLength="106" lengthAdjust="spacingAndGlyphs" stroke="#d1d4dc" stroke-width="0.5">TradingView.com</text>
<text x="235.4" y="23.25" font-size="14.6" fill="#d1d4dc" textLength="3.6" lengthAdjust="spacingAndGlyphs" stroke="#d1d4dc" stroke-width="0.5">,</text>
<text x="245.6" y="24.75" font-size="14" fill="#d1d4dc" textLength="26" lengthAdjust="spacingAndGlyphs" stroke="#d1d4dc" stroke-width="0.3">一月</text>
<text x="278.2" y="24.75" font-size="14.6" fill="#d1d4dc" textLength="137.7" lengthAdjust="spacingAndGlyphs" stroke="#d1d4dc" stroke-width="0.5">06, 2022 13:45 UTC+8</text>
<text x="21.5" y="56.5" font-size="14" fill="#c5c8d0" textLength="113" lengthAdjust="spacingAndGlyphs" stroke="#c5c8d0" stroke-width="0.3">納斯達克綜合指數</text>
<text x="136.4" y="56.5" font-size="14" fill="#c5c8d0" textLength="14.6" lengthAdjust="spacingAndGlyphs" stroke="#c5c8d0" stroke-width="0.3">, 1</text>
<text x="151" y="56.5" font-size="14" fill="#c5c8d0" textLength="14.4" lengthAdjust="spacingAndGlyphs" stroke="#c5c8d0" stroke-width="0.3">天</text>
<text x="167.4" y="56.5" font-size="14" fill="#c5c8d0" textLength="59.3" lengthAdjust="spacingAndGlyphs" stroke="#c5c8d0" stroke-width="0.3">, NASDAQ</text>
<text x="235.4" y="56.5" font-size="14" fill="#c5c8d0" textLength="13.2" lengthAdjust="spacingAndGlyphs" stroke="#c5c8d0" stroke-width="0.3">開</text>
<text x="250.0" y="56.5" font-size="14" fill="#c5c8d0" textLength="5.6" lengthAdjust="spacingAndGlyphs" stroke="#c5c8d0" stroke-width="0.3">=</text>
<text x="257.4" y="56.5" font-size="14" fill="#ef5350" textLength="55.9" lengthAdjust="spacingAndGlyphs" stroke="#ef5350" stroke-width="0.3">15547.16</text>
<text x="323" y="56.5" font-size="14" fill="#c5c8d0" textLength="13.2" lengthAdjust="spacingAndGlyphs" stroke="#c5c8d0" stroke-width="0.3">高</text>
<text x="337.6" y="56.5" font-size="14" fill="#c5c8d0" textLength="5.6" lengthAdjust="spacingAndGlyphs" stroke="#c5c8d0" stroke-width="0.3">=</text>
<text x="345" y="56.5" font-size="14" fill="#ef5350" textLength="55.9" lengthAdjust="spacingAndGlyphs" stroke="#ef5350" stroke-width="0.3">15586.30</text>
<text x="410.4" y="56.5" font-size="14" fill="#c5c8d0" textLength="13.2" lengthAdjust="spacingAndGlyphs" stroke="#c5c8d0" stroke-width="0.3">低</text>
<text x="425.0" y="56.5" font-size="14" fill="#c5c8d0" textLength="5.6" lengthAdjust="spacingAndGlyphs" stroke="#c5c8d0" stroke-width="0.3">=</text>
<text x="432.4" y="56.5" font-size="14" fill="#ef5350" textLength="55.9" lengthAdjust="spacingAndGlyphs" stroke="#ef5350" stroke-width="0.3">15095.18</text>
<text x="498" y="56.5" font-size="14" fill="#c5c8d0" textLength="13.2" lengthAdjust="spacingAndGlyphs" stroke="#c5c8d0" stroke-width="0.3">收</text>
<text x="512.6" y="56.5" font-size="14" fill="#c5c8d0" textLength="5.6" lengthAdjust="spacingAndGlyphs" stroke="#c5c8d0" stroke-width="0.3">=</text>
<text x="520" y="56.5" font-size="14" fill="#ef5350" textLength="55.9" lengthAdjust="spacingAndGlyphs" stroke="#ef5350" stroke-width="0.3">15100.17</text>
<text x="584.7" y="56.5" font-size="14" fill="#ef5350" textLength="49.1" lengthAdjust="spacingAndGlyphs" stroke="#ef5350" stroke-width="0.3">−522.54</text>
<text x="639" y="56.5" font-size="14" fill="#ef5350" textLength="52.6" lengthAdjust="spacingAndGlyphs" stroke="#ef5350" stroke-width="0.3">(−3.34%)</text>
<text x="21.5" y="77.0" font-size="14" fill="#c5c8d0" textLength="42.3" lengthAdjust="spacingAndGlyphs" stroke="#c5c8d0" stroke-width="0.3">成交量</text>
<text x="64.2" y="77.0" font-size="14" fill="#c5c8d0" textLength="34.4" lengthAdjust="spacingAndGlyphs" stroke="#c5c8d0" stroke-width="0.3">(Vol):</text>
<text x="103.1" y="77.0" font-size="14" fill="#c5c8d0" textLength="255" lengthAdjust="spacingAndGlyphs" stroke="#c5c8d0" stroke-width="0.3">數據供應商不提供此商品的交易量數據。</text>
<text x="21.5" y="96.8" font-size="14" fill="#c5c8d0" textLength="105.3" lengthAdjust="spacingAndGlyphs" stroke="#c5c8d0" stroke-width="0.3">MA (10, close, 0)</text>
<text x="136.4" y="96.8" font-size="14" fill="#2196f3" textLength="56.3" lengthAdjust="spacingAndGlyphs" stroke="#2196f3" stroke-width="0.3">15653.67</text>
<text x="21.5" y="116.7" font-size="14" fill="#c5c8d0" textLength="105.3" lengthAdjust="spacingAndGlyphs" stroke="#c5c8d0" stroke-width="0.3">MA (20, close, 0)</text>
<text x="136.4" y="116.7" font-size="14" fill="#fbc02d" textLength="56.3" lengthAdjust="spacingAndGlyphs" stroke="#fbc02d" stroke-width="0.3">15518.02</text>
<text x="21.5" y="136.6" font-size="14" fill="#c5c8d0" textLength="105.3" lengthAdjust="spacingAndGlyphs" stroke="#c5c8d0" stroke-width="0.3">MA (60, close, 0)</text>
<text x="136.4" y="136.6" font-size="14" fill="#673ab7" textLength="56.3" lengthAdjust="spacingAndGlyphs" stroke="#673ab7" stroke-width="0.3">15501.47</text>
<text x="21.5" y="156.6" font-size="14" fill="#c5c8d0" textLength="112.7" lengthAdjust="spacingAndGlyphs" stroke="#c5c8d0" stroke-width="0.3">MA (120, close, 0)</text>
<text x="143.6" y="156.6" font-size="14" fill="#f44336" textLength="56.3" lengthAdjust="spacingAndGlyphs" stroke="#f44336" stroke-width="0.3">15171.22</text>
<text x="21.6" y="594.3" font-size="14" fill="#c5c8d0" textLength="61.6" lengthAdjust="spacingAndGlyphs" stroke="#c5c8d0" stroke-width="0.3">KDJ (9, 3)</text>
<text x="93.2" y="594.3" font-size="14" fill="#f0de38" textLength="33.8" lengthAdjust="spacingAndGlyphs" stroke="#f0de38" stroke-width="0.45">11.69</text>
<g transform="translate(12,840.4) scale(0.653)" fill="#d1d4dc"><path d="M14 22H7V11H0V4h14v18zM28 22h-8l7.5-18h8L28 22z"/><circle cx="20" cy="8" r="4"/></g>
<text x="39.2" y="854.6" font-size="16.6" fill="#d1d4dc" textLength="82.6" lengthAdjust="spacingAndGlyphs" stroke="#d1d4dc" stroke-width="0.7">TradingView</text>
</svg>
</body></html>
